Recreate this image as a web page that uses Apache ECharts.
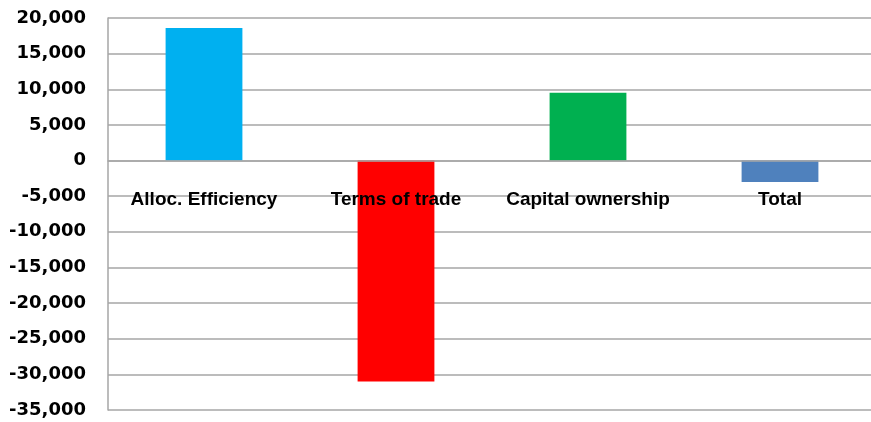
<!DOCTYPE html>
<html>
<head>
<meta charset="utf-8">
<script src="https://cdn.jsdelivr.net/npm/echarts@6/dist/echarts.min.js"></script>
<style>
  html, body { margin: 0; padding: 0; background: #fff; overflow: hidden; }
  #chart { width: 871px; height: 422px; }
</style>
</head>
<body>
<div id="chart"></div>
<script>
// Welfare decomposition by component
const categories = ['Alloc. Efficiency', 'Terms of trade', 'Capital ownership', 'Total'];
const values = [18600, -31000, 9500, -3000];
const barColors = ['#00B0F0', '#FF0000', '#00B050', '#4F81BD'];

const yMin = -35000;
const yMax = 20000;
const gridTop = 18;
const gridBottom = 12;
const chartHeight = 422;

// Category axis sits on the zero line, labels hang just below it
const plotHeight = chartHeight - gridTop - gridBottom;
const zeroOffset = -plotHeight * (0 - yMin) / (yMax - yMin);

const lineColor = '#a6a6a6';

const chart = echarts.init(document.getElementById('chart'));
chart.setOption({
  animation: false,
  backgroundColor: '#fff',
  grid: { show: false, left: 108, right: -5, top: gridTop, bottom: gridBottom, containLabel: false, outerBoundsMode: 'none' },
  xAxis: {
    type: 'category',
    data: categories,
    z: 5,
    offset: zeroOffset,
    splitLine: { show: false },
    axisLine: { onZero: false, lineStyle: { color: lineColor, width: 1.5 } },
    axisTick: { show: false },
    axisLabel: {
      interval: 0,
      margin: 30,
      color: '#000',
      fontWeight: 'bold',
      fontSize: 19,
      fontFamily: '"Liberation Sans", Arial, sans-serif'
    }
  },
  yAxis: {
    type: 'value',
    min: yMin,
    max: yMax,
    interval: 5000,
    axisLine: { show: true, onZero: false, lineStyle: { color: lineColor, width: 1.5 } },
    axisTick: { show: false },
    splitLine: { lineStyle: { color: lineColor, width: 1.5 } },
    axisLabel: {
      margin: 22,
      color: '#000',
      fontWeight: 'bold',
      fontSize: 18,
      fontFamily: '"DejaVu Sans", sans-serif',
      formatter: v => v.toLocaleString('en-US')
    }
  },
  series: [{
    type: 'bar',
    barWidth: '40%',
    z: 2,
    data: values.map((v, i) => ({ value: v, itemStyle: { color: barColors[i] } }))
  }]
});
</script>
</body>
</html>
